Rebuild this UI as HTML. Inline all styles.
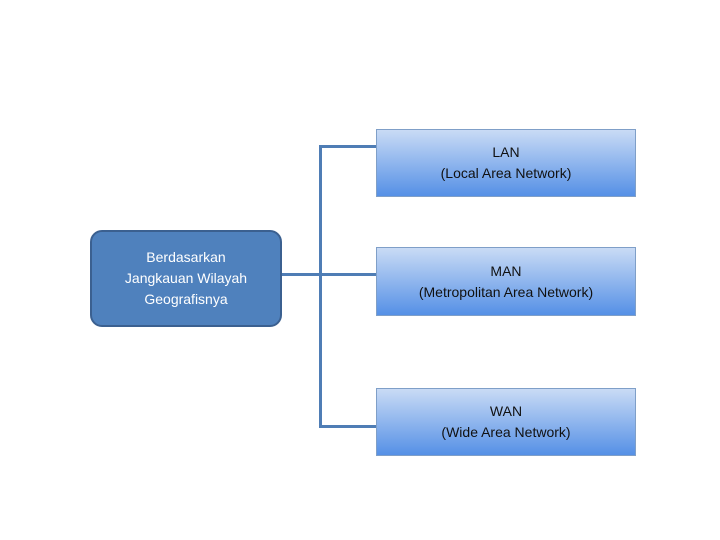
<!DOCTYPE html>
<html><head><style>
body{margin:0;width:720px;height:540px;background:#fff;position:relative;overflow:hidden;font-family:"Liberation Sans",sans-serif;}
.l{position:absolute;background:#4f7db5;}
.b{position:absolute;left:376px;width:258px;border:1px solid #7f9fc8;background:linear-gradient(#c9dbf5,#5590e6);display:flex;align-items:center;justify-content:center;text-align:center;font-size:14px;line-height:21px;color:#111;}
.m{position:absolute;left:90px;top:230px;width:188px;height:93px;border:2px solid #3b6090;border-radius:12px;background:#4f81bd;color:#fff;display:flex;align-items:center;justify-content:center;text-align:center;font-size:14px;line-height:21px;}
</style></head><body>
<div class="l" style="left:319px;top:145px;width:3px;height:283px"></div>
<div class="l" style="left:319px;top:145px;width:57px;height:3px"></div>
<div class="l" style="left:319px;top:425px;width:57px;height:3px"></div>
<div class="l" style="left:282px;top:273px;width:94px;height:3px"></div>
<div class="m">Berdasarkan<br>Jangkauan Wilayah<br>Geografisnya</div>
<div class="b" style="top:129px;height:66px">LAN<br>(Local Area Network)</div>
<div class="b" style="top:247px;height:67px">MAN<br>(Metropolitan Area Network)</div>
<div class="b" style="top:388px;height:66px">WAN<br>(Wide Area Network)</div>
</body></html>
